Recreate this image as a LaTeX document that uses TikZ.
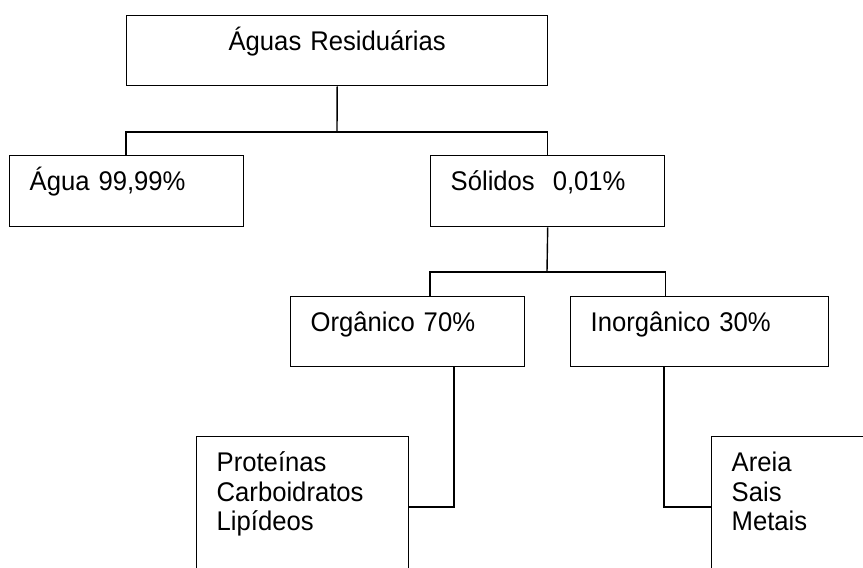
\documentclass[tikz,border=0pt]{standalone}
\usepackage{fontspec}
\setmainfont{Liberation Sans}[FakeStretch=0.95]

\begin{document}
\begin{tikzpicture}[x=1pt,y=-1pt,line width=1.4pt,
    caixa/.style={draw,anchor=north west,inner sep=0pt,inner xsep=20pt,align=left,text height=35pt,font=\fontsize{27}{29.5}\selectfont}]
    \useasboundingbox (0,0) rectangle (863,568);
    \clip (0,0) rectangle (863,568);
    \node[caixa,inner xsep=0pt,align=center,text width=421pt,text depth=35pt] (a) at (126,15) {Águas Residuárias};
    \node[caixa,text width=194pt,text depth=36pt] (b) at (9,155) {Água 99,99\%};
    \node[caixa,text width=194pt,text depth=36pt] (c) at (430,155) {Sólidos\ \ 0,01\%};
    \node[caixa,text width=194pt,text depth=35pt] (d) at (290,296) {Orgânico 70\%};
    \node[caixa,text width=218pt,text depth=35pt] (e) at (570,296) {Inorgânico 30\%};
    \node[caixa,text width=172pt,text depth=115pt] (f) at (196,436) {Proteínas\\Carboidratos\\Lipídeos};
    \node[caixa,text width=200pt,text depth=115pt] (g) at (711,436) {Areia\\Sais\\Metais};
    \coordinate (x) at (337,132);
    \coordinate (y) at (547,272);
    \coordinate (u) at (454,507);
    \coordinate (v) at (664,507);
    \draw (a.south) -- (x);
    \draw (b.north -| a.west) |- (x) -| (c.north);
    \draw (c.south) -- (y);
    \draw (d.north -| c.west) |- (y) -| (e.north -| c.east);
    \draw (d.south -| u) |- (f.east |- u);
    \draw (e.south -| v) |- (g.west |- v);
  \end{tikzpicture}
\end{document}
